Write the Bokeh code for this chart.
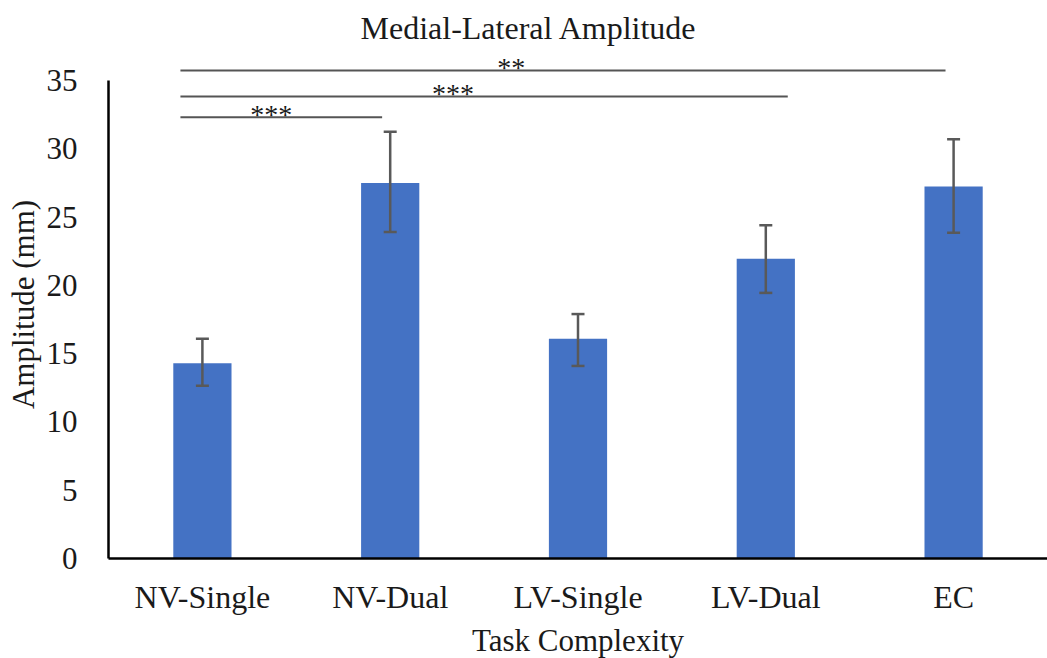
from bokeh.plotting import figure
from bokeh.models import ColumnDataSource, Whisker, TeeHead, FactorRange, Range1d, FixedTicker
from bokeh.core.properties import value
from bokeh.embed import file_html
from bokeh.resources import INLINE

categories = ["NV-Single", "NV-Dual", "LV-Single", "LV-Dual", "EC"]
means = [14.3, 27.5, 16.1, 21.95, 27.25]
err_upper = [16.1, 31.25, 17.9, 24.4, 30.7]
err_lower = [12.65, 23.9, 14.1, 19.45, 23.85]
y_ticks = [0, 5, 10, 15, 20, 25, 30, 35]

# significance brackets (synthetic categorical coords: category i centre = i + 0.5)
sig_x0 = [0.383, 0.383, 0.383]
sig_x1 = [1.457, 3.617, 4.457]
sig_y = [32.32, 33.83, 35.73]
sig_text_x = [0.867, 1.834, 2.145]
sig_labels = ["***", "***", "**"]

FONT = "Liberation Serif"

src = ColumnDataSource(dict(cat=categories, mean=means, upper=err_upper, lower=err_lower))
sig_src = ColumnDataSource(dict(x0=sig_x0, x1=sig_x1, y=sig_y, tx=sig_text_x, label=sig_labels))

p = figure(
    x_range=FactorRange(*categories, range_padding=0),
    y_range=Range1d(0, 37.2),
    frame_width=939, frame_height=508,
    min_border_left=108, min_border_right=0, min_border_top=50, min_border_bottom=100,
    output_backend="svg", toolbar_location=None,
    title="Medial-Lateral Amplitude",
)
p.background_fill_color = "white"
p.border_fill_color = "white"
p.outline_line_color = None
p.grid.grid_line_color = None

p.title.text_font = FONT
p.title.text_font_size = "32px"
p.title.text_font_style = "normal"
p.title.text_color = "#1a1a1a"
p.title.align = "left"
p.title.offset = 252

p.vbar(x="cat", top="mean", width=0.31, source=src, fill_color="#4472C4", line_color=None)

w = Whisker(source=src, base="cat", upper="upper", lower="lower",
            line_color="#595959", line_width=2.5, level="overlay",
            upper_head=TeeHead(size=13, line_color="#595959", line_width=2.5),
            lower_head=TeeHead(size=13, line_color="#595959", line_width=2.5))
p.add_layout(w)

p.segment(x0="x0", x1="x1", y0="y", y1="y", source=sig_src, line_color="#555555", line_width=2)
p.text(x="tx", y="y", text="label", source=sig_src, text_font=value(FONT),
       text_font_size="28px", text_align="center", text_baseline="alphabetic",
       y_offset=-3, text_color="#1a1a1a")

# axes
p.yaxis.ticker = FixedTicker(ticks=y_ticks)
p.yaxis.bounds = (0, 35)
p.yaxis.axis_label = "Amplitude (mm)"
p.xaxis.axis_label = "Task Complexity"
for ax in (p.xaxis, p.yaxis):
    ax.major_tick_line_color = None
    ax.minor_tick_line_color = None
    ax.axis_line_color = "black"
    ax.axis_line_width = 2.5
    ax.major_label_text_font = FONT
    ax.major_label_text_font_size = "31px"
    ax.major_label_text_color = "#1a1a1a"
    ax.axis_label_text_font = FONT
    ax.axis_label_text_font_size = "31px"
    ax.axis_label_text_font_style = "normal"
    ax.axis_label_text_color = "#1a1a1a"
p.xaxis.major_label_text_font_size = "32px"
p.yaxis.major_label_standoff = 25
p.yaxis.axis_label_standoff = 3
p.xaxis.major_label_standoff = 14
p.xaxis.axis_label_standoff = 5

open("out.html", "w").write(file_html(p, INLINE))
